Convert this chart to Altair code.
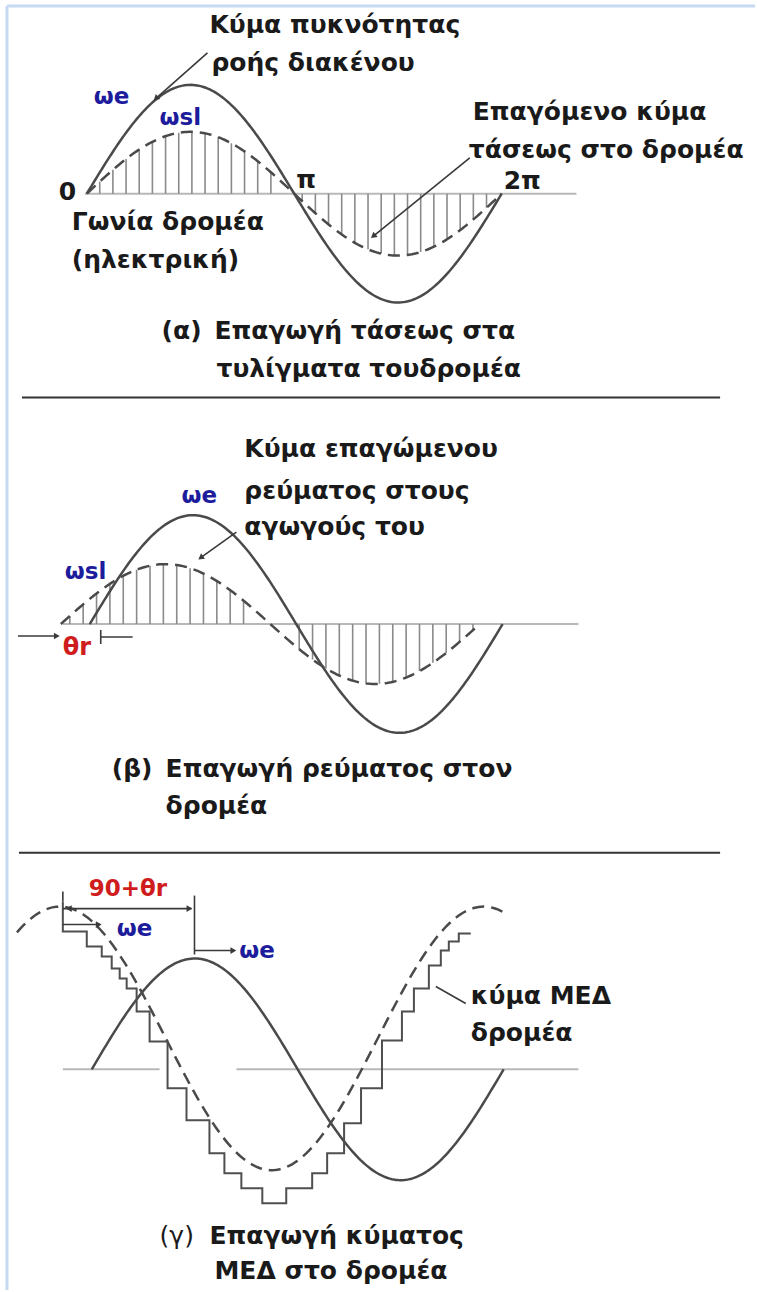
import numpy as np
import pandas as pd
import altair as alt

W, H = 757, 1292

# ---------------- wave parameters (drawing units, y grows downward) ----------------
baselines = [194, 625, 1071]            # zero line of panels α, β, γ

# air-gap flux density wave (solid) per panel: start, period, amplitude
solid_start = [87, 90, 92]
solid_period = [416, 414, 413]
solid_amp = [109, 109, 111]

# induced wave (dashed) in panels α and β
dash_start = [87, 61]
dash_period = [416, 420]
dash_amp = [62, 60]

# panel γ: dashed wave leads by 90+θr (cosine form)
g_dash_peak = 60
g_dash_period = 425
g_dash_center = 1040
g_dash_amp = 132
g_dash_span = [17, 507]

# panel γ: rotor mmf staircase (step edges and levels)
stair_x = [63, 63, 87, 102, 112, 120, 127, 137, 150, 168, 187, 210, 225, 242, 263,
           287, 313, 328, 345, 362, 383, 403, 415, 430, 442, 450, 460, 472]
stair_y = [903, 933, 948, 958, 970, 980, 990, 1013, 1043, 1090, 1122, 1155, 1175, 1190, 1205,
           1190, 1175, 1155, 1125, 1090, 1042, 1013, 990, 967, 952, 943, 935, 935]

# hatch spans under the dashed waves (panel, from, to, spacing)
hatch_spans = [(0, 100, 284, 13.2), (0, 303, 495, 13.2),
               (1, 70, 256, 13.4), (1, 300, 480, 13.4)]

# zero lines: (x from, x to, y)
zero_lines = [(85, 578, 194), (63, 580, 625), (63, 160, 1071), (237, 580, 1071)]

# panel separators
separators = [(22, 722, 398), (19, 722, 854)]

# ---------------- build tables ----------------
def sine_pts(x0, period, base, amp, tag, n=200):
    xs = np.linspace(x0, x0 + period, n)
    ys = base - amp * np.sin(2 * np.pi * (xs - x0) / period)
    return pd.DataFrame({"x": xs, "y": ys, "id": tag, "i": np.arange(n)})

solid = pd.concat([sine_pts(solid_start[k], solid_period[k], baselines[k], solid_amp[k], f"s{k}")
                   for k in range(3)])

dashed_parts = [sine_pts(dash_start[k], dash_period[k], baselines[k], dash_amp[k], f"d{k}")
                for k in range(2)]
gx = np.linspace(g_dash_span[0], g_dash_span[1], 200)
gy = g_dash_center - g_dash_amp * np.cos(2 * np.pi * (gx - g_dash_peak) / g_dash_period)
dashed_parts.append(pd.DataFrame({"x": gx, "y": gy, "id": "d2", "i": np.arange(200)}))
dashed = pd.concat(dashed_parts)

stairs = pd.DataFrame({"x": stair_x, "y": stair_y, "i": range(len(stair_x))})

hatch_rows = []
for k, a, b, step in hatch_spans:
    for x in np.arange(a, b, step):
        yv = baselines[k] - dash_amp[k] * np.sin(2 * np.pi * (x - dash_start[k]) / dash_period[k])
        hatch_rows.append({"x": x, "y": baselines[k], "y2": yv})
hatch = pd.DataFrame(hatch_rows)

zeros = pd.DataFrame([{"x": a, "x2": b, "y": y} for a, b, y in zero_lines])
seps = pd.DataFrame([{"x": a, "x2": b, "y": y} for a, b, y in separators])

frame = pd.DataFrame([{"x": 7, "x2": 7, "y": 6, "y2": H},
                      {"x": 7, "x2": W, "y": 6, "y2": 6}])

# pointer and dimension lines
leaders = pd.DataFrame([
    {"x": 208, "y": 53, "x2": 157, "y2": 98},
    {"x": 471, "y": 158, "x2": 375, "y2": 236},
    {"x": 237, "y": 533, "x2": 202, "y2": 558},
    {"x": 18, "y": 637, "x2": 58, "y2": 637},
    {"x": 101, "y": 638, "x2": 133, "y2": 638},
    {"x": 101, "y": 631, "x2": 101, "y2": 645},
    {"x": 63, "y": 910, "x2": 192, "y2": 910},
    {"x": 63, "y": 893, "x2": 63, "y2": 903},
    {"x": 195, "y": 897, "x2": 195, "y2": 956},
    {"x": 63, "y": 926, "x2": 100, "y2": 926},
    {"x": 195, "y": 952, "x2": 235, "y2": 952},
    {"x": 467, "y": 1005, "x2": 437, "y2": 988},
])

heads = pd.DataFrame([
    {"x": 157, "y": 98, "dx": -51, "dy": 45},
    {"x": 375, "y": 236, "dx": -96, "dy": 78},
    {"x": 202, "y": 558, "dx": -35, "dy": 25},
    {"x": 56, "y": 637, "dx": 1, "dy": 0},
    {"x": 189, "y": 910, "dx": 1, "dy": 0},
    {"x": 70, "y": 910, "dx": -1, "dy": 0},
    {"x": 98, "y": 926, "dx": 1, "dy": 0},
    {"x": 233, "y": 952, "dx": 1, "dy": 0},
])
heads["ang"] = np.degrees(np.arctan2(heads["dx"], -heads["dy"])) % 360

# ---------------- labels ----------------
BLACK, BLUE, RED = "#1a1a1a", "#1c1c9c", "#cf1d1d"
label_text = ["Κύμα πυκνότητας", "ροής διακένου", "Επαγόμενο κύμα", "τάσεως στο δρομέα",
              "0", "π", "2π", "Γωνία δρομέα", "(ηλεκτρική)",
              "(α)", "Επαγωγή τάσεως στα", "τυλίγματα τουδρομέα",
              "Κύμα επαγώμενου", "ρεύματος στους", "αγωγούς του",
              "(β)", "Επαγωγή ρεύματος στον", "δρομέα",
              "κύμα ΜΕΔ", "δρομέα", "Επαγωγή κύματος", "ΜΕΔ στο δρομέα",
              "ωe", "ωsl", "ωe", "ωsl", "θr", "90+θr", "ωe", "ωe"]
label_x = [210, 212, 474, 470, 59, 297, 505, 72, 72,
           162, 215, 217, 245, 245, 245,
           112, 166, 166, 472, 472, 210, 215,
           94, 160, 182, 65, 63, 89, 117, 240]
label_y = [25, 63, 112, 150, 192, 180, 181, 222, 260,
           332, 332, 370, 450, 492, 528,
           770, 770, 807, 998, 1035, 1238, 1273,
           97, 118, 497, 573, 649, 890, 930, 952]
label_color = [BLACK] * 22 + [BLUE, BLUE, BLUE, BLUE, RED, RED, BLUE, BLUE]
label_size = [25] * 22 + [23, 23, 23, 23, 24, 23, 23, 23]
labels = pd.DataFrame({"x": label_x, "y": label_y, "t": label_text,
                       "c": label_color, "s": label_size})

part_tags = pd.DataFrame({"x": [160], "y": [1238], "t": ["(γ)"]})

# ---------------- chart ----------------
FONT = "DejaVu Sans"
xs = alt.Scale(domain=[0, W], nice=False, zero=False)
ys = alt.Scale(domain=[0, H], nice=False, zero=False, reverse=True)
X = lambda f="x": alt.X(f"{f}:Q", scale=xs, axis=None)
Y = lambda f="y": alt.Y(f"{f}:Q", scale=ys, axis=None)

frame_l = alt.Chart(frame).mark_rule(color="#c6d9f1", strokeWidth=3).encode(
    x=X(), y=Y(), x2="x2:Q", y2="y2:Q")
zero_l = alt.Chart(zeros).mark_rule(color="#b8b8b8", strokeWidth=2).encode(
    x=X(), x2="x2:Q", y=Y())
sep_l = alt.Chart(seps).mark_rule(color="#333333", strokeWidth=2).encode(
    x=X(), x2="x2:Q", y=Y())
hatch_l = alt.Chart(hatch).mark_rule(color="#8a8a8a", strokeWidth=1.6).encode(
    x=X(), y=Y(), y2="y2:Q")
solid_l = alt.Chart(solid).mark_line(color="#4a4a4a", strokeWidth=2.5).encode(
    x=X(), y=Y(), detail="id:N", order="i:Q")
dashed_l = alt.Chart(dashed).mark_line(color="#4a4a4a", strokeWidth=2.5,
                                       strokeDash=[12, 7]).encode(
    x=X(), y=Y(), detail="id:N", order="i:Q")
stair_l = alt.Chart(stairs).mark_line(color="#4f4f4f", strokeWidth=2,
                                      interpolate="step-after").encode(
    x=X(), y=Y(), order="i:Q")
lead_l = alt.Chart(leaders).mark_rule(color="#3a3a3a", strokeWidth=1.6).encode(
    x=X(), y=Y(), x2="x2:Q", y2="y2:Q")
head_l = alt.Chart(heads).mark_point(shape="triangle", filled=True, size=45,
                                     color="#3a3a3a", opacity=1).encode(
    x=X(), y=Y(), angle=alt.Angle("ang:Q", scale=None))
text_l = alt.Chart(labels).mark_text(font=FONT, fontWeight="bold", align="left",
                                     baseline="middle").encode(
    x=X(), y=Y(), text="t:N", color=alt.Color("c:N", scale=None),
    size=alt.Size("s:Q", scale=None))
tag_l = alt.Chart(part_tags).mark_text(font=FONT, fontSize=25, align="left",
                                       baseline="middle", color=BLACK).encode(
    x=X(), y=Y(), text="t:N")

chart = alt.layer(frame_l, zero_l, sep_l, hatch_l, solid_l, dashed_l, stair_l,
                  lead_l, head_l, text_l, tag_l).properties(
    width=W, height=H, padding=0, background="white",
    autosize=alt.AutoSizeParams(type="fit", contains="padding")
).configure_view(stroke=None)

chart.save("out.html", embed_options={"renderer": "svg", "actions": False})
